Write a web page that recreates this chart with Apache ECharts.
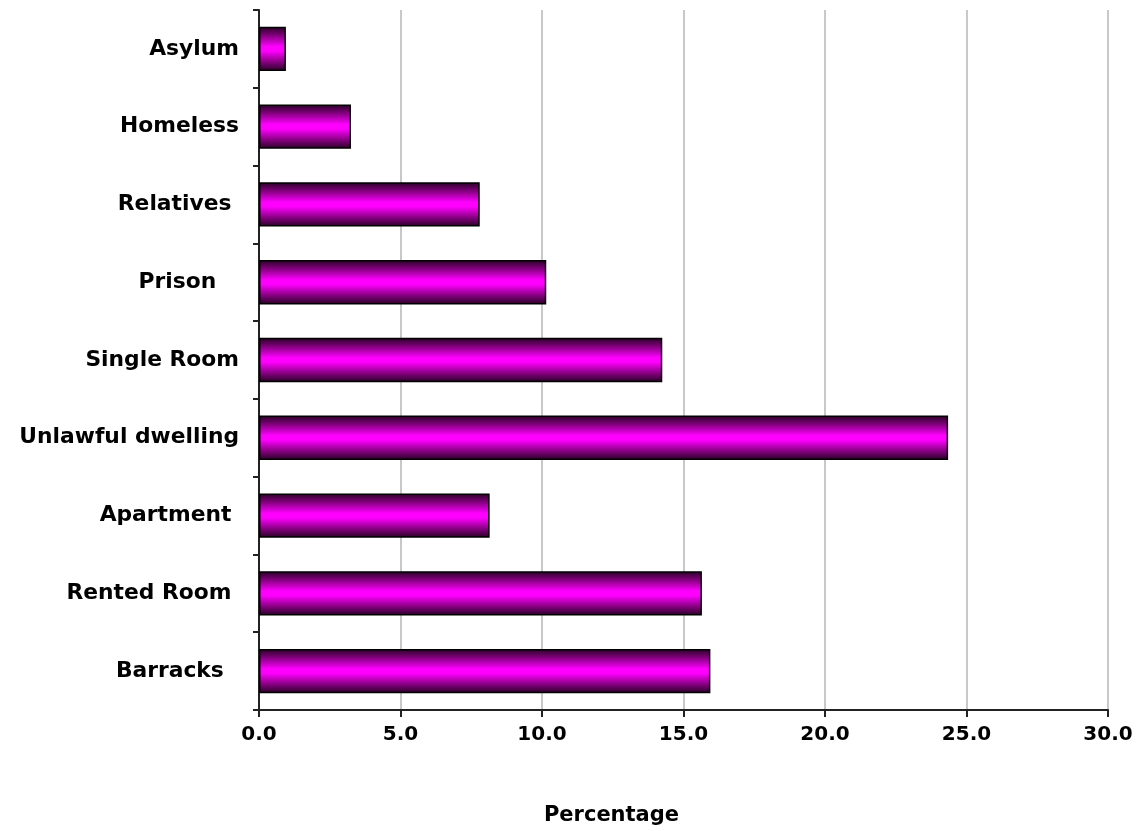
<!DOCTYPE html>
<html><head><meta charset="utf-8">
<script src="https://cdn.jsdelivr.net/npm/echarts@6/dist/echarts.min.js"></script>
<style>html,body{margin:0;padding:0;background:#fff}#c{width:1140px;height:831px}</style>
</head><body><div id="c"></div>
<script>
const categories = ["Barracks  ", "Rented Room ", "Apartment ", "Unlawful dwelling", "Single Room", "Prison   ", "Relatives ", "Homeless", "Asylum"];
const values = [15.95, 15.65, 8.15, 24.35, 14.25, 10.15, 7.8, 3.25, 0.95];
const xTicks = {min: 0, max: 30, interval: 5};
const axisName = "Percentage";

const chart = echarts.init(document.getElementById('c'));
const font = '"DejaVu Sans", Verdana, sans-serif';
chart.setOption({
  animation: false,
  grid: {left: 259, right: 32, top: 10, bottom: 121, containLabel: false},
  xAxis: {
    type: 'value', min: xTicks.min, max: xTicks.max, interval: xTicks.interval,
    name: axisName, nameLocation: 'middle', nameGap: 95,
    nameTextStyle: {fontFamily: font, fontWeight: 'bold', fontSize: 21, color: '#000', padding: [0, 144, 0, 0]},
    axisLine: {show: true, lineStyle: {color: '#222', width: 2}},
    axisTick: {show: true, length: 7, lineStyle: {color: '#222', width: 2}},
    axisLabel: {formatter: v => v.toFixed(1), fontFamily: font, fontWeight: 'bold', fontSize: 20, color: '#000', margin: 15},
    splitLine: {show: true, lineStyle: {color: '#c8c8c8', width: 2}}
  },
  yAxis: {
    type: 'category', data: categories,
    axisLine: {show: true, lineStyle: {color: '#222', width: 2}},
    axisTick: {show: true, length: 6, lineStyle: {color: '#222', width: 2}},
    axisLabel: {fontFamily: font, fontWeight: 'bold', fontSize: 21.8, color: '#000', margin: 20},
    splitLine: {show: false}
  },
  series: [{
    type: 'bar', data: values, barCategoryGap: '43%',
    itemStyle: {
      borderColor: '#000', borderWidth: 1.5,
      color: new echarts.graphic.LinearGradient(0, 0, 0, 1, [
        {offset: 0, color: '#250022'},
        {offset: 0.2, color: '#85007f'},
        {offset: 0.45, color: '#ff00ff'},
        {offset: 0.55, color: '#ff00ff'},
        {offset: 0.8, color: '#85007f'},
        {offset: 1, color: '#250022'}
      ])
    }
  }]
});
</script></body></html>
